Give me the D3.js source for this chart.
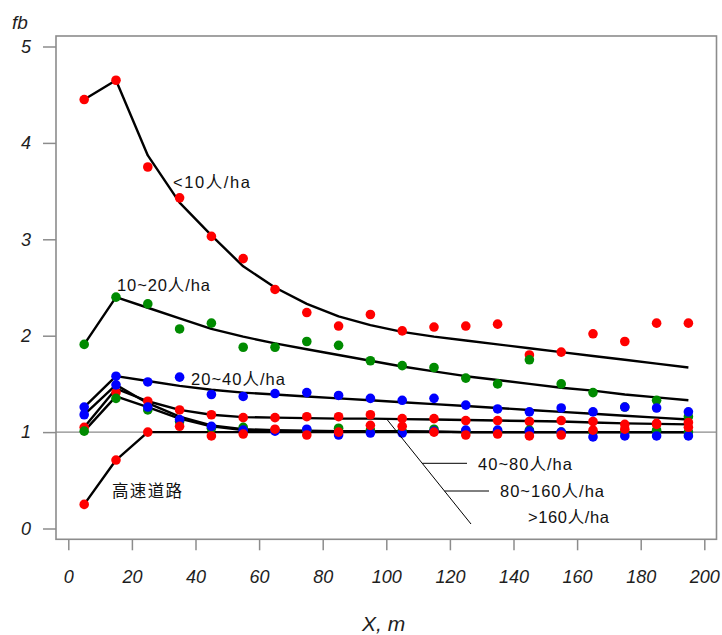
<!DOCTYPE html>
<html>
<head>
<meta charset="utf-8">
<script src="https://cdn.jsdelivr.net/npm/d3@7"></script>
<style>
  body { margin: 0; background: #fff; }
  svg { display: block; }
</style>
</head>
<body>
<svg id="chart" width="722" height="635"></svg>
<script>
// Distance from the road (m)
const distance = [5, 15, 25, 35, 45, 55, 65, 75, 85, 95, 105, 115, 125, 135, 145, 155, 165, 175, 185, 195];

// Observed fb by population density class
const obsLt10    = [4.45, 4.65, 3.75, 3.43, 3.03, 2.80, 2.48, 2.24, 2.10, 2.22, 2.05, 2.09, 2.10, 2.12, 1.80, 1.83, 2.02, 1.94, 2.13, 2.13];
const obs10to20  = [1.91, 2.40, 2.33, 2.07, 2.13, 1.88, 1.88, 1.94, 1.90, 1.74, 1.69, 1.67, 1.56, 1.50, 1.75, 1.50, 1.41, 1.26, 1.33, 1.16];
const obs20to40  = [1.26, 1.58, 1.52, 1.57, 1.39, 1.37, 1.40, 1.41, 1.38, 1.35, 1.33, 1.35, 1.28, 1.24, 1.21, 1.25, 1.21, 1.26, 1.25, 1.21];
const obs40to80  = [1.05, 1.41, 1.32, 1.23, 1.18, 1.15, 1.15, 1.16, 1.16, 1.18, 1.14, 1.14, 1.12, 1.12, 1.11, 1.12, 1.11, 1.08, 1.09, 1.10];
const obs80to160 = [1.01, 1.35, 1.23, 1.11, 1.04, 1.05, 1.02, 1.02, 1.04, 1.02, 1.01, 1.03, 1.01, 1.01, 1.02, 1.00, 1.00, 1.00, 1.02, 1.00];
const obsGt160   = [1.18, 1.49, 1.26, 1.13, 1.06, 1.02, 1.01, 1.03, 0.97, 0.99, 0.99, 1.01, 1.02, 1.02, 1.01, 1.00, 0.95, 0.96, 0.96, 0.96];
const obsHighway = [0.25, 0.71, 1.00, 1.06, 0.96, 0.98, 1.03, 0.97, 1.00, 1.07, 1.06, 1.00, 0.97, 0.98, 0.96, 0.97, 1.02, 1.03, 1.08, 1.05];

// Fitted curves
const fitLt10    = [4.45, 4.65, 3.87, 3.38, 3.04, 2.72, 2.50, 2.33, 2.20, 2.11, 2.04, 1.99, 1.95, 1.91, 1.87, 1.83, 1.79, 1.75, 1.71, 1.67];
const fit10to20  = [1.91, 2.40, 2.29, 2.18, 2.07, 1.99, 1.92, 1.86, 1.80, 1.74, 1.68, 1.63, 1.58, 1.54, 1.50, 1.46, 1.43, 1.39, 1.36, 1.33];
const fit20to40  = [1.26, 1.58, 1.53, 1.48, 1.44, 1.41, 1.39, 1.37, 1.35, 1.33, 1.31, 1.29, 1.27, 1.25, 1.23, 1.21, 1.19, 1.17, 1.15, 1.13];
const fit40to80  = [1.05, 1.45, 1.32, 1.23, 1.18, 1.155, 1.15, 1.145, 1.14, 1.14, 1.135, 1.13, 1.125, 1.12, 1.115, 1.11, 1.10, 1.09, 1.085, 1.08];
const fit80to160 = [1.01, 1.37, 1.26, 1.14, 1.06, 1.02, 1.01, 1.01, 1.01, 1.01, 1.005, 1.005, 1.0, 1.0, 1.0, 1.0, 1.0, 1.0, 1.0, 1.0];
const fitGt160   = [1.18, 1.49, 1.30, 1.16, 1.07, 1.03, 1.02, 1.015, 1.01, 1.01, 1.01, 1.005, 1.0, 1.0, 1.0, 1.0, 1.0, 1.0, 1.0, 1.0];
const fitHighway = [0.25, 0.71, 1.00, 1.00, 1.00, 1.00, 1.00, 1.00, 1.00, 1.00, 1.00, 1.00, 1.00, 1.00, 1.00, 1.00, 1.00, 1.00, 1.00, 1.00];

const seriesNames = ["<10人/ha", "10~20人/ha", "20~40人/ha", "40~80人/ha", "80~160人/ha", ">160人/ha", "高速道路"];
const seriesColors = ["#ff0000", "#008b00", "#0000ff", "#ff0000", "#008b00", "#0000ff", "#ff0000"];

const xTicks = [0, 20, 40, 60, 80, 100, 120, 140, 160, 180, 200];
const yTicks = [0, 1, 2, 3, 4, 5];

const observed = [obsLt10, obs10to20, obs20to40, obs40to80, obs80to160, obsGt160, obsHighway];
const fitted   = [fitLt10, fit10to20, fit20to40, fit40to80, fit80to160, fitGt160, fitHighway];

const svg = d3.select("#chart");
const W = 722, H = 635;
svg.append("rect").attr("width", W).attr("height", H).attr("fill", "#fff");

const plot = { left: 56, top: 36, right: 716.5, bottom: 539.3 };
const x = d3.scaleLinear().domain([0, 200]).range([68.3, 704.3]);
const y = d3.scaleLinear().domain([0, 5]).range([528.5, 46.5]);

const axisFont = "'Liberation Sans', Arial, sans-serif";
const labelFont = "'Liberation Sans', 'Noto Sans CJK SC', Arial, sans-serif";

// Reference line at fb = 1
svg.append("line")
  .attr("x1", plot.left).attr("x2", plot.right)
  .attr("y1", y(1)).attr("y2", y(1))
  .attr("stroke", "#6e6e6e").attr("stroke-width", 1);

// Axes
const yAxis = svg.append("g")
  .attr("transform", `translate(${plot.left},0)`)
  .call(d3.axisLeft(y).tickValues(yTicks).tickSize(13).tickPadding(12).tickFormat(d3.format("d")));
const xAxis = svg.append("g")
  .attr("transform", `translate(0,${plot.bottom})`)
  .call(d3.axisBottom(x).tickValues(xTicks).tickSize(11).tickPadding(20).tickFormat(d3.format("d")));
[xAxis, yAxis].forEach(g => {
  g.select(".domain").remove();
  g.selectAll(".tick line").attr("stroke", "#8c8c8c").attr("stroke-width", 1.5);
  g.selectAll(".tick text")
    .attr("fill", "#1e1e1e")
    .style("font-family", axisFont)
    .style("font-style", "italic")
    .style("font-size", "18px");
});

// Plot frame
svg.append("rect")
  .attr("x", plot.left).attr("y", plot.top)
  .attr("width", plot.right - plot.left).attr("height", plot.bottom - plot.top)
  .attr("fill", "none").attr("stroke", "#8c8c8c").attr("stroke-width", 1.6);

// Axis titles
svg.append("text").attr("x", 12).attr("y", 29)
  .style("font-family", axisFont).style("font-style", "italic").style("font-size", "19px")
  .attr("fill", "#1e1e1e").text("fb");
svg.append("text").attr("x", 362).attr("y", 631)
  .style("font-family", axisFont).style("font-style", "italic").style("font-size", "21px")
  .attr("fill", "#1e1e1e").text("X,  m");

// Fitted curves
const line = d3.line().x((d, i) => x(distance[i])).y(d => y(d));
svg.append("g").selectAll("path")
  .data(fitted)
  .join("path")
  .attr("d", line)
  .attr("fill", "none")
  .attr("stroke", "#000")
  .attr("stroke-width", 2.4)
  .attr("stroke-linejoin", "round");

// Observed points, one group per class
observed.forEach((vals, k) => {
  svg.append("g").selectAll("circle")
    .data(vals)
    .join("circle")
    .attr("cx", (d, i) => x(distance[i]))
    .attr("cy", d => y(d))
    .attr("r", 4.8)
    .attr("fill", seriesColors[k]);
});

// Leader lines for the three densest classes
const lead0 = [x(100), y(1.14)];
const leadEnd = [471, 524];
svg.append("line")
  .attr("x1", lead0[0]).attr("y1", lead0[1])
  .attr("x2", leadEnd[0]).attr("y2", leadEnd[1])
  .attr("stroke", "#000").attr("stroke-width", 1);
const along = yy => lead0[0] + (leadEnd[0] - lead0[0]) * (yy - lead0[1]) / (leadEnd[1] - lead0[1]);
[[463.3, 467], [491, 489]].forEach(([yy, x2]) => {
  svg.append("line")
    .attr("x1", along(yy)).attr("y1", yy)
    .attr("x2", x2).attr("y2", yy)
    .attr("stroke", "#000").attr("stroke-width", 1);
});

// Class labels
const labelLayout = [
  { x: 173, y: 182, w: 77 },
  { x: 117, y: 285, w: 93 },
  { x: 191, y: 379, w: 94 },
  { x: 478, y: 464, w: 94 },
  { x: 500, y: 491, w: 104 },
  { x: 528, y: 517, w: 81 },
  { x: 112, y: 491, w: 70 }
];
seriesNames.forEach((name, k) => {
  const L = labelLayout[k];
  svg.append("text")
    .attr("x", L.x).attr("y", L.y + 6)
    .attr("textLength", L.w).attr("lengthAdjust", "spacing")
    .style("font-family", labelFont).style("font-size", "16.5px")
    .attr("fill", "#111")
    .text(name);
});
</script>
</body>
</html>
